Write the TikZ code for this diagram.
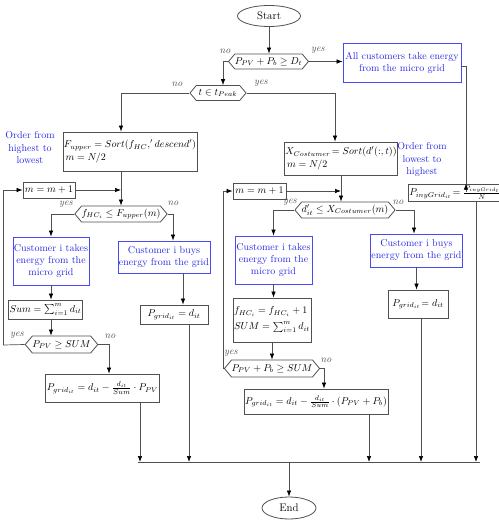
\documentclass[tikz,border=0pt]{standalone}
\usetikzlibrary{shapes.geometric,shapes.symbols,arrows.meta,calc}
\definecolor{ln}{HTML}{505050}
\definecolor{bl}{HTML}{2828E6}
\definecolor{bb}{HTML}{4A4AF2}
\begin{document}
\begin{tikzpicture}[x=1pt,y=-1pt,
  every node/.style={inner sep=1pt, font=\fontsize{10}{12}\selectfont},
  sz/.style 2 args={minimum width=#1pt, minimum height=#2pt},
  box/.style={draw=ln, line width=0.8pt, rectangle},
  bbox/.style={draw=bb, line width=0.8pt, rectangle, text=bl, align=center, font=\fontsize{10}{12}\selectfont},
  hex/.style={draw=ln, line width=0.8pt, signal, signal to=west and east, signal pointer angle=100, inner sep=0pt},
  term/.style={draw=ln, line width=0.8pt, ellipse, inner sep=0pt, font=\fontsize{11}{13}\selectfont},
  arr/.style={draw=ln, line width=0.7pt, -{Latex[length=6pt,width=4.5pt,color=black]}},
  ln/.style={draw=ln, line width=0.7pt},
  lbl/.style={font=\fontsize{10}{12}\selectfont\itshape, text=ln},
  note/.style={text=bl, align=center, font=\fontsize{10}{12.5}\selectfont}
]
\useasboundingbox (0,0) rectangle (498,522);

% terminals
\node[term, sz={63}{21}] (start) at (269,16) {Start};
\node[term, sz={54}{22}] (end) at (289,508) {End};

% top decisions
\node[hex, sz={79}{15}] (d1) at (268.5,61.5) {$P_{PV}+P_b \geq D_t$};
\node[bbox, sz={118}{39}] (A) at (402,62.5) {All customers take energy\\from the micro grid};
\node[hex, sz={56}{15}] (d2) at (218,93) {$t \in t_{Peak}$};

% left branch
\node[box, sz={126}{39}, align=left] (F) at (130,151.5) {$F_{upper} = Sort(f_{HC},'descend')$\\[1pt]\,$m = N/2$};
\node[note] (ord1) at (30,148) {Order from\\highest to\\lowest};
\node[box, sz={52}{16}] (m1) at (49,190) {$m = m+1$};
\node[hex, sz={90}{16}] (d3) at (121,214) {$f_{HC_i} \leq F_{upper}(m)$};
\node[bbox, sz={76}{48}] (b1) at (51,261) {Customer i takes\\energy from the\\micro grid};
\node[bbox, sz={92}{32}] (b2) at (164,257) {Customer i buys\\energy from the grid};
\node[box, sz={68}{19}] (g1) at (174,314.5) {$P_{grid_{it}} = d_{it}$};
\node[box, sz={73}{19}] (s1) at (45.5,309.5) {$Sum = \sum_{i=1}^{m} d_{it}$};
\node[hex, sz={71}{17}] (d4) at (61.5,344.5) {$P_{PV} \geq SUM$};
\node[box, sz={109}{28}] (g2) at (102.5,388) {$P_{grid_{it}} = d_{it} - \frac{d_{it}}{Sum}\cdot P_{PV}$};

% right branch
\node[box, sz={98}{33}, align=left] (X) at (341,158.5) {$X_{Costumer}\!= Sort(d'(:,t))$\\[1pt]\,$m = N/2$};
\node[note] (ord2) at (422,160) {Order from\\lowest to\\highest};
\node[box, sz={84}{17}] (P) at (455,192.5) {$P_{inyGrid_{it}}\!= \frac{P_{inyGrid_t}}{N}$};
\node[box, sz={53}{16}] (m2) at (259.5,191) {$m = m+1$};
\node[hex, sz={96}{16}] (d5) at (345,210) {$d'_{it} \leq X_{Costumer}(m)$};
\node[bbox, sz={77}{48}] (b3) at (273.5,260) {Customer i takes\\energy from the\\micro grid};
\node[bbox, sz={91}{33}] (b4) at (416.5,250.5) {Customer i buys\\energy from the grid};
\node[box, sz={60}{28}] (g3) at (418,304) {$P_{grid_{it}}\!= d_{it}$};
\node[box, sz={78}{44}, align=left] (H) at (272,320) {$f_{HC_i} = f_{HC_i}+1$\\[4pt]$SUM = \sum_{i=1}^{m} d_{it}$};
\node[hex, sz={90}{17}] (d6) at (272,368.5) {$P_{PV}+P_b \geq SUM$};
\node[box, sz={138}{25}] (g4) at (316,401.5) {$P_{grid_{it}} = d_{it} - \frac{d_{it}}{Sum}\cdot (P_{PV}+P_b)$};

% bus
\coordinate (busL) at (138,462);
\coordinate (busR) at (480,462);
\coordinate (loopL) at (3,345);
\coordinate (loopR) at (223,368.5);

% labels
\node[lbl] at (225,51) {no};
\node[lbl] at (318,50) {yes};
\node[lbl] at (177,84) {no};
\node[lbl] at (261,83) {yes};
\node[lbl] at (66,204) {yes};
\node[lbl] at (173,203) {no};
\node[lbl] at (17,335) {yes};
\node[lbl] at (110,336) {no};
\node[lbl] at (290,202) {yes};
\node[lbl] at (398,202) {no};
\node[lbl] at (231,353) {yes};
\node[lbl] at (326,360) {no};

% connectors
\draw[arr] (start) -- (start.south |- d1.north);
\draw[arr] (d1.east) -- (d1.east -| A.west);
\draw[arr] (d1.west) -| ([xshift=5pt]d2.north);
\draw[arr] (d2.east) -| ([xshift=-6pt]X.north);
\draw[arr] (d2.west) -| ([xshift=-9pt]F.north);
\draw[ln] ([yshift=-3.5pt]A.east) -| ([xshift=11pt]P.north);
\draw[arr] ([xshift=11pt,yshift=-8pt]P.north) -- ([xshift=11pt]P.north);

% left
\draw[arr] ([xshift=-9pt]F.south) -- (d3.north);
\draw[arr] (m1.east) -- (m1.east -| d3.north);
\draw[arr] (d3.west) -| (b1.north);
\draw[arr] (d3.east) -| ([xshift=9pt]b2.north);
\draw[arr] ([xshift=19pt]b2.south) -- ([xshift=9pt]g1.north);
\draw[arr] (b1.south) -- (b1.south |- s1.north);
\draw[arr] (s1.south -| b1.south) -- (d4.north -| b1.south);
\draw[ln] (d4.west) -- (loopL);
\draw[arr] (loopL) |- (m1.west);
\draw[arr] (d4.east) -| ([xshift=6.5pt]g2.north);

% right
\draw[arr] (X.south) -- (X.south |- d5.north);
\draw[arr] (m2.east) -- (m2.east -| X.south);
\draw[arr] (d5.west) -| (b3.north);
\draw[arr] (d5.east) -| ([xshift=-2.5pt]b4.north);
\draw[arr] (b4.south) -- (b4.south |- g3.north);
\draw[arr] (b3.south) -- (b3.south |- H.north);
\draw[arr] (H.south) -- (H.south |- d6.north);
\draw[ln] (d6.west) -- (loopR);
\draw[arr] (loopR) |- (m2.west);
\draw[arr] (d6.east) -| ([xshift=8pt]g4.north);

% to bus
\draw[line width=1pt, ln] (busL) -- (busR);
\draw[arr] ([xshift=37.5pt]g2.south) -- ([xshift=37.5pt]g2.south |- busL);
\draw[arr] ([xshift=15pt]g1.south) -- ([xshift=15pt]g1.south |- busL);
\draw[arr] ([xshift=53pt]g4.south) -- ([xshift=53pt]g4.south |- busL);
\draw[arr] ([xshift=3pt]g3.south) -- ([xshift=3pt]g3.south |- busL);
\draw[arr] ([xshift=21pt]P.south) -- ([xshift=21pt]P.south |- busL);
\draw[arr] (end.north |- busL) -- (end.north);
\end{tikzpicture}
\end{document}
